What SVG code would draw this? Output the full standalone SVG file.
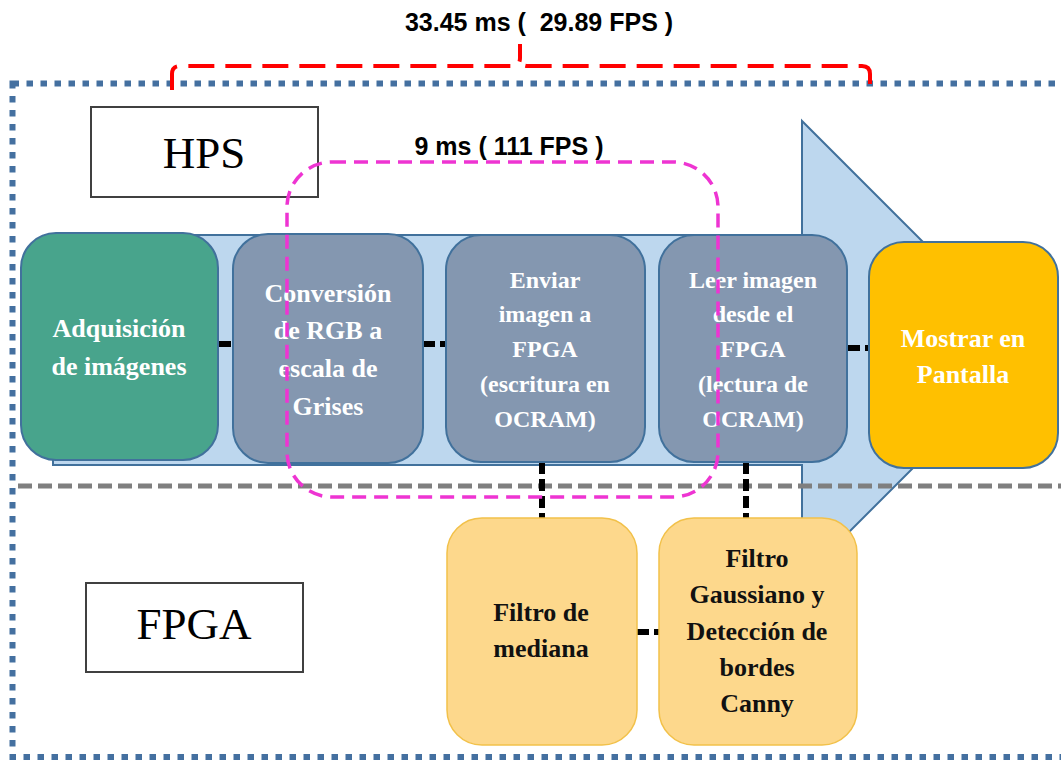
<svg xmlns="http://www.w3.org/2000/svg" width="1061" height="761" viewBox="0 0 1061 761">
<style>
.node{stroke:#41719C;stroke-width:2}
.teal{fill:#48A48C}
.slate{fill:#8497B0}
.gold{fill:#FFC000}
.peach{fill:#FDD88C;stroke:#F2C14A;stroke-width:1.5}
.wt{font-family:"Liberation Serif","Times New Roman",serif;font-weight:bold;fill:#FFFFFF;text-anchor:middle}
.bt{font-family:"Liberation Serif","Times New Roman",serif;font-weight:bold;fill:#111111;text-anchor:middle;font-size:26px}
.lbl{font-family:"Liberation Serif","Times New Roman",serif;fill:#000;text-anchor:middle;font-size:45px}
.lbox{fill:#FFFFFF;stroke:#404040;stroke-width:2}
.time{font-family:"Liberation Sans",Arial,sans-serif;font-weight:bold;fill:#000;text-anchor:middle;font-size:25px}
.conn{stroke:#000;stroke-width:6;fill:none;stroke-dasharray:12 5}
</style>
<rect width="1061" height="761" fill="#FFFFFF"/>

<!-- outer dotted border -->
<rect x="12.5" y="83.5" width="1100" height="673.5" fill="none" stroke="#4470A0" stroke-width="6" stroke-dasharray="6.5 7.5"/>

<!-- big process arrow -->
<polygon id="arrow" points="53,235 802,235 802,121 1031,350 802,579 802,465 53,465" fill="#BDD7EE" stroke="#41719C" stroke-width="2"/>

<!-- HPS / FPGA divider -->
<line x1="18" y1="486" x2="1061" y2="486" stroke="#7F7F7F" stroke-width="5" stroke-dasharray="14 6"/>

<!-- labels -->
<g id="hps-label">
<rect class="lbox" x="91" y="107" width="227" height="90"/>
<text class="lbl" x="204" y="168">HPS</text>
</g>
<g id="fpga-label">
<rect class="lbox" x="86" y="583" width="217" height="89"/>
<text class="lbl" x="194" y="639">FPGA</text>
</g>

<!-- connectors -->
<g id="connectors">
<line class="conn" x1="219" y1="344" x2="233" y2="344" stroke-dasharray="7 5"/>
<line class="conn" x1="423" y1="344" x2="446" y2="344" stroke-dasharray="16 5"/>
<line class="conn" x1="848" y1="348" x2="869" y2="348" stroke-dasharray="6 8"/>
<line class="conn" x1="542" y1="462" x2="542" y2="518" stroke-width="5"/>
<line class="conn" x1="746" y1="462" x2="746" y2="518" stroke-width="5"/>
<line class="conn" x1="637" y1="632" x2="659" y2="632" stroke-dasharray="3 6 13 5"/>
</g>

<!-- nodes -->
<g id="n-adquisicion">
<rect class="node teal" x="21" y="233" width="197" height="227" rx="35"/>
<text class="wt" font-size="26" x="119" y="337">Adquisición</text>
<text class="wt" font-size="26" x="119" y="375">de imágenes</text>
</g>
<g id="n-conversion">
<rect class="node slate" x="233" y="234" width="190" height="229" rx="35"/>
<text class="wt" font-size="26" x="328" y="302">Conversión</text>
<text class="wt" font-size="26" x="328" y="339">de RGB a</text>
<text class="wt" font-size="26" x="328" y="377">escala de</text>
<text class="wt" font-size="26" x="328" y="415">Grises</text>
</g>
<g id="n-enviar">
<rect class="node slate" x="446" y="235" width="199" height="227" rx="35"/>
<text class="wt" font-size="24" x="545" y="288">Enviar</text>
<text class="wt" font-size="24" x="545" y="322">imagen a</text>
<text class="wt" font-size="24" x="545" y="357">FPGA</text>
<text class="wt" font-size="24" x="545" y="392">(escritura  en</text>
<text class="wt" font-size="24" x="545" y="427">OCRAM)</text>
</g>
<g id="n-leer">
<rect class="node slate" x="659" y="235" width="188" height="227" rx="35"/>
<text class="wt" font-size="24" x="753" y="288">Leer imagen</text>
<text class="wt" font-size="24" x="753" y="322">desde el</text>
<text class="wt" font-size="24" x="753" y="357">FPGA</text>
<text class="wt" font-size="24" x="753" y="392">(lectura de</text>
<text class="wt" font-size="24" x="753" y="427">OCRAM)</text>
</g>
<g id="n-mostrar">
<rect class="node gold" x="869" y="242" width="189" height="226" rx="35"/>
<text class="wt" font-size="26" x="963" y="347">Mostrar en</text>
<text class="wt" font-size="26" x="963" y="383">Pantalla</text>
</g>
<g id="n-mediana">
<rect class="peach" x="447" y="518" width="190" height="227" rx="35"/>
<text class="bt" x="541" y="621">Filtro de</text>
<text class="bt" x="541" y="657">mediana</text>
</g>
<g id="n-canny">
<rect class="peach" x="659" y="518" width="198" height="227" rx="35"/>
<text class="bt" x="757" y="567">Filtro</text>
<text class="bt" x="757" y="603">Gaussiano y</text>
<text class="bt" x="757" y="640">Detección de</text>
<text class="bt" x="757" y="676">bordes</text>
<text class="bt" x="757" y="712">Canny</text>
</g>

<!-- 9 ms region -->
<g id="hps-fpga-span">
<rect x="287" y="162" width="431" height="335" rx="45" fill="none" stroke="#EE34D2" stroke-width="3.5" stroke-dasharray="14 8"/>
<text class="time" x="509" y="155">9 ms ( 111 FPS )</text>
</g>

<!-- total time bracket -->
<g id="total-span">
<path d="M172,90 V74 Q172,66 180,66 H512 Q520,66 520,58 V44" fill="none" stroke="#FF0000" stroke-width="4" stroke-dasharray="26 11"/>
<path d="M870,84 V74 Q870,66 862,66 H528 Q520,66 520,58 V44" fill="none" stroke="#FF0000" stroke-width="4" stroke-dasharray="26 11"/>
<text class="time" x="539" y="31" xml:space="preserve">33.45 ms (  29.89 FPS )</text>
</g>
</svg>
